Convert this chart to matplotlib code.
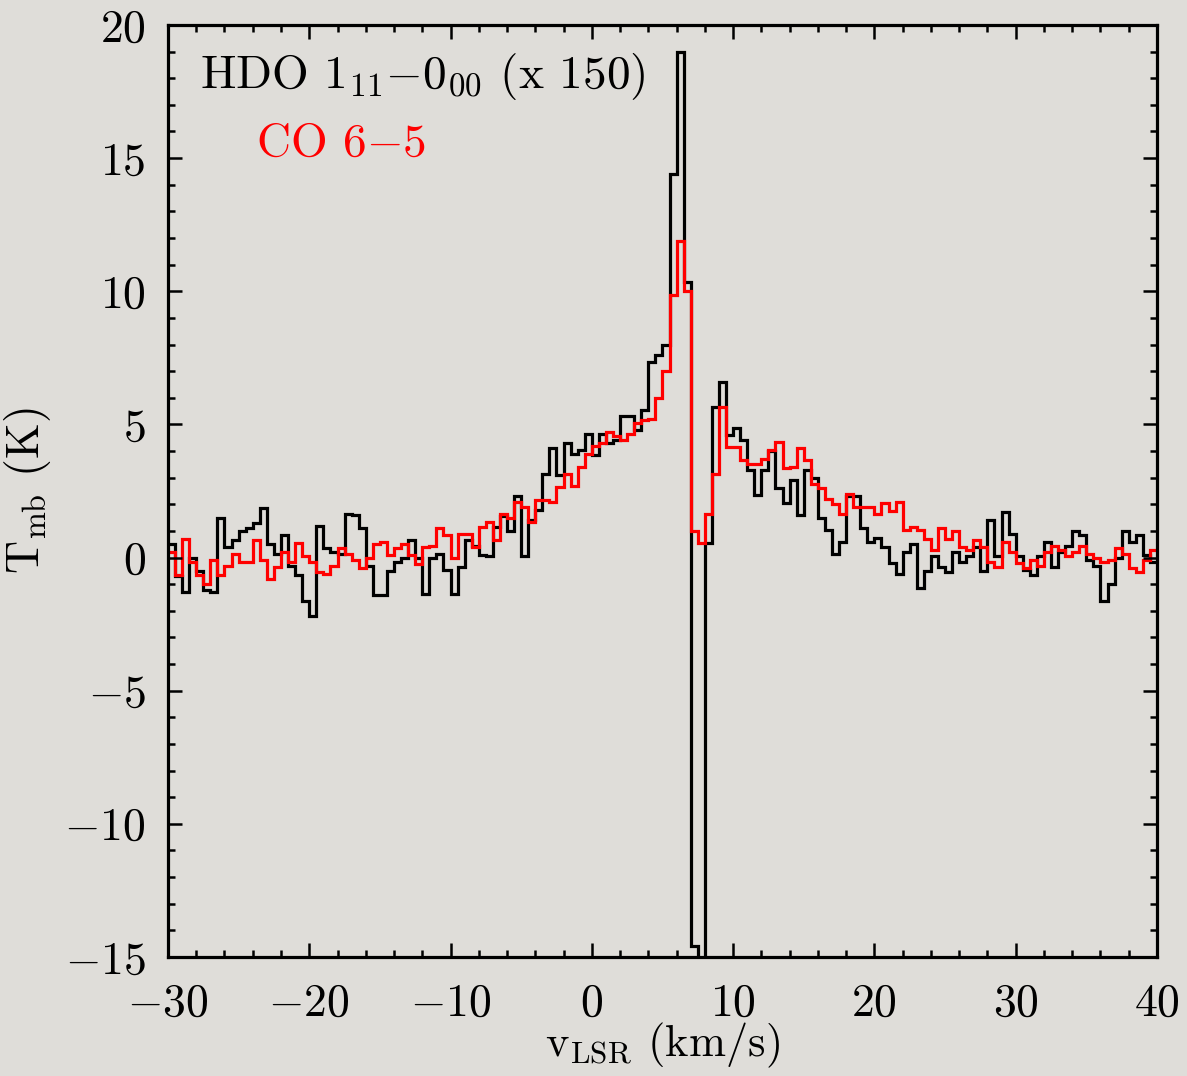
import matplotlib
matplotlib.use("Agg")
import matplotlib.pyplot as plt
import numpy as np

plt.rcParams['font.family'] = ['cmr10', 'DejaVu Serif']
plt.rcParams['mathtext.fontset'] = 'cm'
plt.rcParams['axes.formatter.use_mathtext'] = True

# channel grid (km/s)
v_start, v_end, dv = -30.0, 40.0, 0.5

# HDO 1_11-0_00 spectrum (x 150), K
hdo = [0.5, -0.7, -1.3, 0.0, -0.5, -1.2, -1.3, 1.5, 0.4, 0.65,
       1.0, 1.1, 1.3, 1.85, 0.5, 0.15, 0.85, -0.3, -0.65, -1.65,
       -2.2, 1.2, 0.35, 0.2, 0.15, 1.65, 1.6, 1.1, -0.3, -1.4,
       -1.4, -0.5, -0.15, 0.0, 0.65, 0.0, -1.35, 0.0, 0.15, -0.45,
       -1.35, -0.35, 0.65, 0.45, 0.1, 0.05, 1.15, 1.55, 1.0, 2.3,
       0.05, 1.4, 1.8, 3.15, 4.1, 3.1, 4.3, 3.9, 4.05, 4.65,
       3.85, 4.65, 4.3, 4.4, 5.3, 5.3, 4.8, 5.55, 7.35, 7.6,
       8.0, 14.4, 19.0, 10.35, -14.6, -25.0, 0.55, 5.65, 6.6, 4.6,
       4.85, 4.4, 3.3, 2.35, 3.3, 4.0, 2.6, 2.05, 2.9, 1.6,
       3.3, 3.0, 1.5, 1.05, 0.15, 0.6, 2.3, 2.3, 1.1, 0.6,
       0.75, 0.4, -0.2, -0.6, 0.2, 0.5, -1.15, -0.5, 0.05, -0.35,
       -0.55, 0.2, -0.15, 0.05, 0.4, -0.5, 1.4, 0.05, 1.7, 0.9,
       0.05, -0.45, -0.65, 0.05, 0.6, -0.35, 0.2, 0.45, 1.0, 0.85,
       -0.1, -0.3, -1.65, -1.0, 0.0, 1.0, 0.6, 0.85, 0.1, -0.15]

# CO 6-5 spectrum, K
co = [0.2, -0.65, 0.7, -0.15, -0.65, -1.0, -0.1, -0.65, -0.3, 0.15,
      -0.15, -0.15, 0.65, -0.1, -0.8, -0.35, 0.2, -0.15, 0.55, 0.05,
      -0.15, -0.55, -0.6, -0.3, 0.35, 0.15, -0.1, -0.4, 0.0, 0.5,
      0.6, 0.1, 0.35, 0.5, 0.1, -0.25, 0.4, 0.45, 1.1, 0.85,
      0.0, 0.9, 0.9, 0.4, 1.15, 1.35, 0.65, 1.65, 1.5, 2.1,
      1.9, 1.35, 2.15, 2.15, 2.1, 2.65, 3.15, 2.7, 3.4, 3.9,
      4.2, 4.3, 4.7, 4.55, 4.4, 4.65, 5.05, 5.15, 5.2, 6.0,
      7.0, 9.85, 11.9, 10.0, 1.0, 0.55, 1.65, 3.15, 5.65, 4.15,
      4.15, 3.65, 3.5, 3.5, 3.7, 4.05, 4.35, 3.35, 3.4, 4.1,
      3.65, 2.75, 2.6, 2.2, 2.0, 1.65, 2.4, 1.9, 1.9, 1.9,
      1.65, 2.05, 1.75, 2.1, 1.05, 1.15, 1.05, 0.7, 0.3, 1.1,
      0.7, 1.0, 0.4, 0.3, 0.65, 0.4, -0.15, -0.35, 0.6, 0.2,
      -0.2, -0.4, -0.1, -0.3, 0.2, 0.45, 0.3, 0.05, 0.2, 0.45,
      0.15, 0.0, -0.15, -0.1, 0.35, 0.15, -0.4, -0.55, -0.1, 0.3]

edges = np.arange(v_start, v_end + dv / 2, dv)

bg = '#dfddd9'
fig = plt.figure(figsize=(11.87, 10.76), dpi=100, facecolor=bg)
ax = fig.add_axes([0.1415, 0.1106, 0.8332, 0.8662], facecolor=bg)

ax.stairs(hdo, edges, baseline=None, color='black', lw=2.3)
ax.stairs(co, edges, baseline=None, color='#ff0000', lw=2.3)

ax.set_xlim(-30, 40)
ax.set_ylim(-15, 20)
ax.set_xticks(np.arange(-30, 41, 10))
ax.set_yticks(np.arange(-15, 21, 5))
ax.set_xticks(np.arange(-30, 41, 2), minor=True)
ax.set_yticks(np.arange(-15, 21, 1), minor=True)
ax.tick_params(which='both', direction='in', top=True, right=True,
               width=1.8, labelsize=33)
ax.tick_params(which='major', length=10)
ax.tick_params(which='minor', length=5)
ax.tick_params(axis='x', pad=19)
ax.tick_params(axis='y', pad=16)
for s in ax.spines.values():
    s.set_linewidth(2.3)

ax.set_xlabel(r'v$_{\rm LSR}$ (km/s)', fontsize=32, labelpad=-3)
ax.set_ylabel(r'T$_{\rm mb}$ (K)', fontsize=33, labelpad=8)

ax.text(-27.7, 17.65, r'HDO 1$_{11}$$-$0$_{00}$ (x 150)', fontsize=34,
        color='black', ha='left', va='baseline')
ax.text(-23.8, 15.1, r'CO 6$-$5', fontsize=34, color='#ff0000',
        ha='left', va='baseline')

fig.savefig('out.png', dpi=100, facecolor=bg)
